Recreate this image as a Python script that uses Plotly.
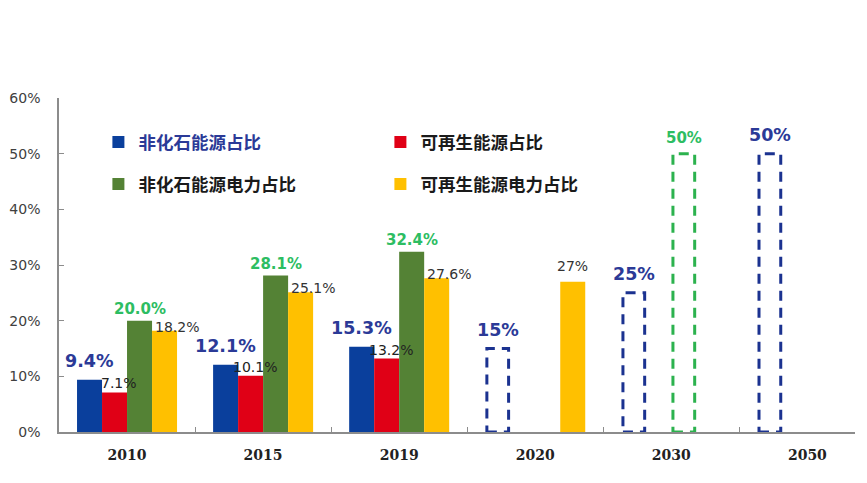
import plotly.graph_objects as go

categories = ["2010", "2015", "2019", "2020", "2030", "2050"]
nonfossil_share = [9.4, 12.1, 15.3, 15, 25, 50]
renewable_share = [7.1, 10.1, 13.2, None, None, None]
nonfossil_power_share = [20.0, 28.1, 32.4, None, 50, None]
renewable_power_share = [18.2, 25.1, 27.6, 27, None, None]
is_target = [False, False, False, True, True, True]

series_names = ["非化石能源占比", "可再生能源占比", "非化石能源电力占比", "可再生能源电力占比"]
all_values = [nonfossil_share, renewable_share, nonfossil_power_share, renewable_power_share]

# styles
colors = ["#0a3f9c", "#e00016", "#548235", "#ffc000"]
label_colors = ["#2b3a97", "#222222", "#2dbd62", "#333333"]
dash_colors = ["#1b3290", "#e00016", "#2cb24e", "#ffc000"]
label_fonts = [
    dict(family="DejaVu Sans", size=17.5, weight="bold"),
    dict(family="DejaVu Sans", size=14),
    dict(family="DejaVu Sans", size=15, weight="bold"),
    dict(family="DejaVu Sans", size=14),
]
# label offsets (px) from bar top centre: (xshift, yshift) for actual / target values
label_shift = [((0, 19), (0, 19)), ((4, 9), (0, 9)), ((0, 12), (0, 16)), ((12, 4), (0, 16))]
# series whose target values are drawn as dashed outlines
dashed_series = {0, 2}

BARGAP = 0.265
N_SERIES = 4
bar_w = (1 - BARGAP) / N_SERIES

fig = go.Figure()
annotations = []
shapes = []
for j, vals in enumerate(all_values):
    mcolors = []
    for i, v in enumerate(vals):
        outline = is_target[i] and j in dashed_series
        mcolors.append("rgba(0,0,0,0)" if outline else colors[j])
        if v is None:
            continue
        center = i + (j - (N_SERIES - 1) / 2) * bar_w
        if outline:
            shapes.append(dict(
                type="rect", xref="x", yref="y",
                x0=center - bar_w / 2 + 0.012, x1=center + bar_w / 2 - 0.012,
                y0=0, y1=v,
                line=dict(color=dash_colors[j], width=3, dash="10px,7px"),
                fillcolor="rgba(0,0,0,0)",
            ))
        xs, ys = label_shift[j][1 if is_target[i] else 0]
        annotations.append(dict(
            x=center, y=v, xref="x", yref="y",
            text=(f"{v:g}%" if is_target[i] else f"{v:.1f}%"),
            showarrow=False, xanchor="center", yanchor="middle",
            xshift=xs, yshift=ys,
            font=dict(color=label_colors[j], **label_fonts[j]),
        ))
    name = series_names[j]
    if j == 0:
        name = f"<span style='color:#2b3a97'>{name}</span>"
    fig.add_trace(go.Bar(
        x=categories, y=vals, name=name,
        marker=dict(color=mcolors, line=dict(width=0)),
        legend="legend" if j in (0, 1) else "legend2",
        showlegend=True, hoverinfo="x+y",
    ))

legend_font = dict(family="Noto Sans CJK SC", size=17.5, color="#1a1a1a", weight="bold")

fig.update_layout(
    width=859, height=475,
    margin=dict(l=51, r=12, t=90, b=51),
    paper_bgcolor="white", plot_bgcolor="white",
    barmode="group", bargap=BARGAP, bargroupgap=0,
    shapes=shapes, annotations=annotations,
    xaxis=dict(
        type="category", range=[-0.5, 5.35], automargin=False,
        showline=True, linecolor="#8c8c8c", linewidth=1.5,
        ticks="inside", tickson="boundaries", ticklen=5, tickcolor="#8c8c8c",
        tickfont=dict(family="DejaVu Serif", size=14, color="#222222", weight="bold"),
        ticklabelstandoff=9,
        showgrid=False, zeroline=False,
    ),
    yaxis=dict(
        range=[0, 60], dtick=10, ticksuffix="%", automargin=False,
        showline=True, linecolor="#8c8c8c", linewidth=1.5,
        ticks="inside", ticklen=5, tickcolor="#8c8c8c",
        tickfont=dict(family="DejaVu Sans", size=14, color="#404040"),
        ticklabelstandoff=14,
        showgrid=False, zeroline=False,
    ),
    legend=dict(
        orientation="h", x=0.0495, y=0.868, xanchor="left", yanchor="middle",
        entrywidth=237, font=legend_font, bgcolor="rgba(0,0,0,0)",
        itemclick=False, traceorder="normal",
    ),
    legend2=dict(
        orientation="h", x=0.0495, y=0.742, xanchor="left", yanchor="middle",
        entrywidth=237, font=legend_font, bgcolor="rgba(0,0,0,0)",
        itemclick=False, traceorder="normal",
    ),
    showlegend=True,
)

fig.write_html("out.html")
